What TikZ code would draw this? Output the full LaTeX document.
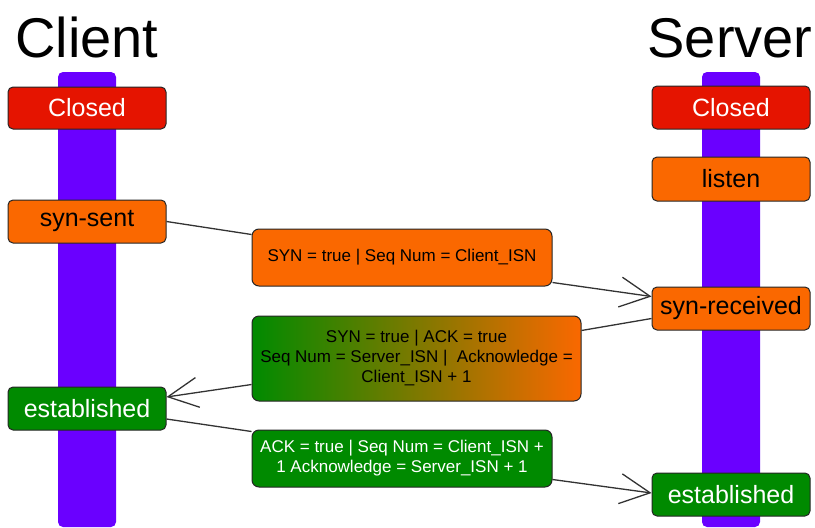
\documentclass[tikz,border=0pt]{standalone}
\usepackage{fontspec}
\setmainfont{Liberation Sans}
\usetikzlibrary{arrows.meta,shadings}
\definecolor{cred}{HTML}{E51400}
\definecolor{corange}{HTML}{FA6800}
\definecolor{cgreen}{HTML}{008A00}
\definecolor{cpurple}{HTML}{6A00FF}
\definecolor{cstroke}{HTML}{262626}
\definecolor{cline}{HTML}{333333}
\begin{document}
\begin{tikzpicture}[x=1pt,y=-1pt,
 statebox/.style={draw=cstroke, line width=1pt, rounded corners=5pt, minimum width=158pt, minimum height=43pt, inner sep=0pt, font=\fontsize{25}{30}\selectfont},
 msgbox/.style={draw=cstroke, line width=1pt, rounded corners=7pt, inner sep=0pt, align=center, font=\fontsize{17}{20}\selectfont},
 lifebar/.style={fill=cpurple, rounded corners=5pt},
 conn/.style={draw=cline, line width=1.3pt},
 arr/.style={conn, -{Straight Barb[length=30pt,width=30pt]}},
 titletext/.style={font=\fontsize{56}{60}\selectfont, anchor=base, inner sep=0pt}
]
\useasboundingbox (0,0) rectangle (815,528);
% lifelines
\fill[lifebar] (58,72) rectangle (116,527);
\fill[lifebar] (702,72) rectangle (760,527);
% titles
\node[titletext] (tclient) at (87,57) {Client};
\node[titletext] (tserver) at (730,57) {Server};
% client states
\node[statebox, fill=cred, text=white, minimum height=42pt] (cclosed) at (87,108) {Closed};
\node[statebox, fill=corange] (csynsent) at (87,221.5) {syn-sent};
\node[statebox, fill=cgreen, text=white] (cest) at (87,408.5) {established};
% server states
\node[statebox, fill=cred, text=white] (sclosed) at (731,107.5) {Closed};
\node[statebox, fill=corange, minimum height=44pt] (slisten) at (731,179) {listen};
\node[statebox, fill=corange] (ssynrec) at (731,308.5) {syn-received};
\node[statebox, fill=cgreen, text=white] (sest) at (731,494.5) {established};
% messages
\node[msgbox, fill=corange, minimum width=300pt, minimum height=57pt] (m1) at (402,257.5) {SYN = true | Seq Num = Client\_ISN};
\node[msgbox, left color=cgreen, right color=corange, minimum width=329pt, minimum height=85pt] (m2) at (416.5,358.5) {SYN = true | ACK = true\\Seq Num = Server\_ISN |~ Acknowledge =\\Client\_ISN + 1};
\node[msgbox, fill=cgreen, text=white, minimum width=300pt, minimum height=57pt] (m3) at (402,458.5) {ACK = true | Seq Num = Client\_ISN +\\1 Acknowledge = Server\_ISN + 1};
% connectors
\draw[conn] (csynsent.east) -- ([yshift=-6pt]m1.north west);
\draw[arr] ([yshift=4pt]m1.south east) -- ([yshift=12pt]ssynrec.west);
\draw[conn] ([yshift=-10pt]ssynrec.west) -- ([yshift=-15pt]m2.north east);
\draw[arr] ([yshift=17pt]m2.south west) -- ([yshift=11.5pt]cest.east);
\draw[conn] ([yshift=-10.5pt]cest.east) -- ([yshift=-2pt]m3.north west);
\draw[arr] ([yshift=8pt]m3.south east) -- ([yshift=1.5pt]sest.west);
\end{tikzpicture}
\end{document}
